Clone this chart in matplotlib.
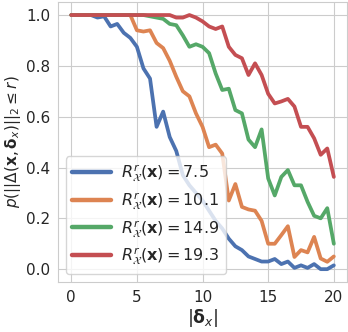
import numpy as np
import matplotlib
matplotlib.use("Agg")
import matplotlib.pyplot as plt
import seaborn as sns

# Datos (paso 0.5 en |delta_x|)
delta = np.arange(0, 20.5, 0.5)

p_75 = [1.0, 1.0, 1.0, 1.0, 0.99, 0.995, 0.955, 0.965, 0.93, 0.91,
        0.875, 0.79, 0.75, 0.56, 0.62, 0.52, 0.465, 0.37, 0.33, 0.30,
        0.27, 0.23, 0.19, 0.16, 0.12, 0.09, 0.075, 0.05, 0.04, 0.03,
        0.03, 0.04, 0.02, 0.03, 0.005, 0.015, 0.005, 0.02, 0.0, 0.0,
        0.015]
p_101 = [1.0, 1.0, 1.0, 1.0, 1.0, 1.0, 1.0, 1.0, 1.0, 1.0,
         0.94, 0.935, 0.94, 0.89, 0.87, 0.82, 0.757, 0.70, 0.68, 0.613,
         0.56, 0.48, 0.49, 0.455, 0.27, 0.335, 0.245, 0.235, 0.23, 0.19,
         0.10, 0.10, 0.134, 0.169, 0.048, 0.075, 0.066, 0.127, 0.042, 0.029,
         0.05]
p_149 = [1.0, 1.0, 1.0, 1.0, 1.0, 1.0, 1.0, 1.0, 1.0, 1.0,
         1.0, 1.0, 0.995, 0.99, 0.985, 0.965, 0.96, 0.92, 0.875, 0.885,
         0.875, 0.85, 0.77, 0.705, 0.71, 0.626, 0.613, 0.51, 0.48, 0.55,
         0.357, 0.29, 0.363, 0.39, 0.33, 0.33, 0.265, 0.21, 0.20, 0.24,
         0.10]
p_193 = [1.0, 1.0, 1.0, 1.0, 1.0, 1.0, 1.0, 1.0, 1.0, 1.0,
         1.0, 1.0, 1.0, 1.0, 1.0, 1.0, 0.99, 0.99, 1.0, 0.99,
         0.975, 0.955, 0.945, 0.955, 0.875, 0.843, 0.83, 0.764, 0.81, 0.764,
         0.69, 0.652, 0.66, 0.67, 0.64, 0.56, 0.56, 0.515, 0.45, 0.475,
         0.363]

radios = ['7.5', '10.1', '14.9', '19.3']
series = [p_75, p_101, p_149, p_193]

sns.set_style("whitegrid")
plt.rcParams['font.family'] = ['DejaVu Sans']
colores = sns.color_palette("deep")

fig = plt.figure(figsize=(3.48, 3.32), dpi=100)
ax = fig.add_axes([0.167, 0.151, 0.83, 0.842])

for i, (r, p) in enumerate(zip(radios, series)):
    ax.plot(delta, p, color=colores[i], lw=2.7,
            label=r'$R^r_{\mathcal{X}}(\mathbf{x}) = %s$' % r)

ax.set_xticks([0, 5, 10, 15, 20])
ax.set_yticks([0.0, 0.2, 0.4, 0.6, 0.8, 1.0])
ax.tick_params(labelsize=11, pad=2)
ax.set_xlabel(r'$|\mathbf{\delta}_x|$', fontsize=12.5, labelpad=2)
ax.set_ylabel(r'$p(||\Delta(\mathbf{x}, \mathbf{\delta}_x)||_2 \leq r)$',
              fontsize=11, labelpad=2)
leg = ax.legend(loc='lower left', fontsize=11.5, handlelength=2.4,
                borderaxespad=0.5, labelspacing=0.4, handletextpad=0.65)
for h in leg.get_lines():
    h.set_linewidth(3.2)

fig.savefig("out.png", dpi=100)
